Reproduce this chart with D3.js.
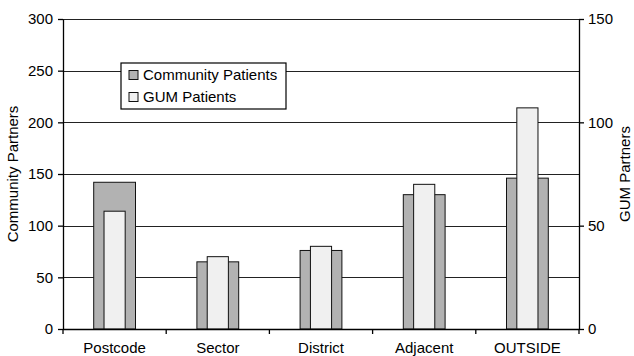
<!DOCTYPE html>
<html>
<head>
<meta charset="utf-8">
<script src="https://cdn.jsdelivr.net/npm/d3@7"></script>
<style>
  html, body { margin: 0; padding: 0; background: #fff; }
  svg { display: block; font-family: "Liberation Sans", Arial, sans-serif; }
</style>
</head>
<body>
<svg id="chart" width="634" height="356"></svg>
<script>
// Partner location categories
const categories = ["Postcode", "Sector", "District", "Adjacent", "OUTSIDE"];
// Community patients' partners (left axis)
const communityValues = [142, 65, 76, 130, 146];
// GUM patients' partners (right axis)
const gumValues = [57, 35, 40, 70, 107];
// Axis ticks
const leftTicks = [0, 50, 100, 150, 200, 250, 300];
const rightTicks = [0, 50, 100, 150];
const seriesNames = ["Community Patients", "GUM Patients"];

const svg = d3.select("#chart");
const margin = { top: 19, right: 55, bottom: 27, left: 63 };
const W = 634, H = 356;
const x0 = margin.left, x1 = W - margin.right;
const y0 = H - margin.bottom, y1 = margin.top;
const FS = 15;

const x = d3.scaleBand().domain(categories).range([x0, x1]).padding(0);
const yL = d3.scaleLinear().domain([0, 300]).range([y0, y1]);
const yR = d3.scaleLinear().domain([0, 150]).range([y0, y1]);

const colCommunity = "#b2b2b2";
const colGum = "#f0f0f0";

// Horizontal grid lines
svg.append("g").selectAll("line").data(leftTicks.filter(d => d > 0)).join("line")
  .attr("x1", x0).attr("x2", x1)
  .attr("y1", d => Math.round(yL(d)) + 0.5).attr("y2", d => Math.round(yL(d)) + 0.5)
  .attr("stroke", "#222").attr("stroke-width", 1);

// Community bars (wide)
const wideW = x.bandwidth() * 0.405;
svg.append("g").selectAll("rect").data(categories).join("rect")
  .attr("x", (d) => x(d) + x.bandwidth() / 2 - wideW / 2)
  .attr("y", (d, i) => yL(communityValues[i]))
  .attr("width", wideW)
  .attr("height", (d, i) => y0 - yL(communityValues[i]))
  .attr("fill", colCommunity).attr("stroke", "#111").attr("stroke-width", 1);

// GUM bars (narrow, overlaid)
const narrowW = x.bandwidth() * 0.205;
svg.append("g").selectAll("rect").data(categories).join("rect")
  .attr("x", (d) => x(d) + x.bandwidth() / 2 - narrowW / 2)
  .attr("y", (d, i) => yR(gumValues[i]))
  .attr("width", narrowW)
  .attr("height", (d, i) => y0 - yR(gumValues[i]))
  .attr("fill", colGum).attr("stroke", "#111").attr("stroke-width", 1);

function styleAxis(g) {
  g.selectAll("path, line").attr("stroke", "#000").attr("stroke-width", 1.3);
  g.selectAll("text").attr("font-size", FS).attr("fill", "#000")
    .attr("font-family", "'Liberation Sans', Arial, sans-serif");
}

// Left axis
svg.append("g").attr("transform", `translate(${x0},0)`)
  .call(d3.axisLeft(yL).tickValues(leftTicks).tickSize(5).tickSizeOuter(0).tickPadding(5))
  .call(styleAxis);

// Right axis
svg.append("g").attr("transform", `translate(${x1},0)`)
  .call(d3.axisRight(yR).tickValues(rightTicks).tickSize(5).tickSizeOuter(0).tickPadding(4))
  .call(styleAxis);

// Bottom axis with ticks at band boundaries
const xb = svg.append("g").attr("transform", `translate(0,${y0})`);
xb.call(d3.axisBottom(x).tickSize(0).tickPadding(13))
  .call(styleAxis);
xb.select(".domain").attr("d", `M${x0},0.5H${x1}`);
const bounds = categories.map(c => x(c)).concat([x1]);
xb.selectAll("line.bnd").data(bounds).join("line").attr("class", "bnd")
  .attr("x1", d => d).attr("x2", d => d).attr("y1", 0).attr("y2", 5)
  .attr("stroke", "#000").attr("stroke-width", 1.3);

// Axis titles
svg.append("text")
  .attr("transform", `translate(18,${(y0 + y1) / 2}) rotate(-90)`)
  .attr("text-anchor", "middle").attr("font-size", FS).text("Community Partners");
svg.append("text")
  .attr("transform", `translate(630,${(y0 + y1) / 2}) rotate(-90)`)
  .attr("text-anchor", "middle").attr("font-size", FS).text("GUM Partners");

// Legend
const lg = svg.append("g").attr("transform", "translate(121,63)");
lg.append("rect").attr("x", 0).attr("y", 0).attr("width", 165).attr("height", 46)
  .attr("fill", "#fff").attr("stroke", "#000").attr("stroke-width", 1.2);
const legColors = [colCommunity, colGum];
seriesNames.forEach((name, i) => {
  const cy = 12 + i * 22;
  lg.append("rect").attr("x", 8).attr("y", cy - 4.5).attr("width", 9).attr("height", 9)
    .attr("fill", legColors[i]).attr("stroke", "#111").attr("stroke-width", 1);
  lg.append("text").attr("x", 22).attr("y", cy).attr("dy", "0.35em")
    .attr("font-size", FS).text(name);
});
</script>
</body>
</html>
